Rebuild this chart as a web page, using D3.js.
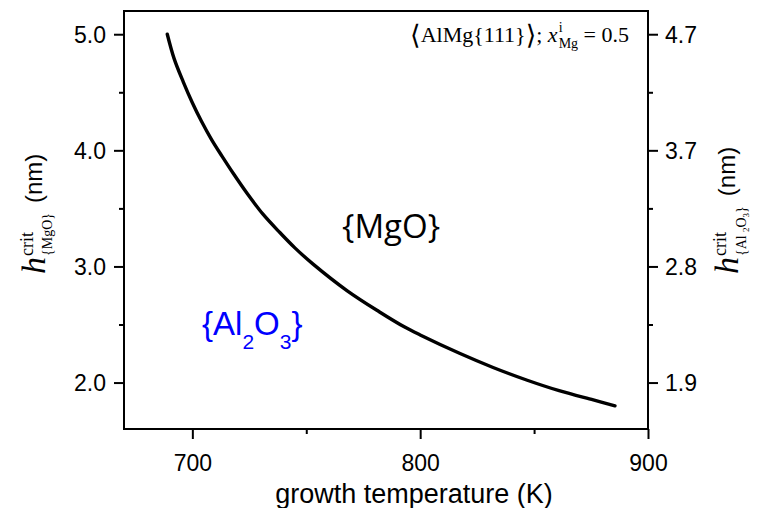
<!DOCTYPE html>
<html>
<head>
<meta charset="utf-8">
<script src="https://cdn.jsdelivr.net/npm/d3@7/dist/d3.min.js"></script>
<style>
  html, body { margin: 0; padding: 0; background: #fff; }
  svg { display: block; }
  text { white-space: pre; }
</style>
</head>
<body>
<div id="chart"></div>
<script>
// ── Data ──
const temps = [689, 692, 696, 700, 704, 708.5, 713, 718, 724, 731, 738.5, 745, 753, 768, 782, 793, 800, 817.5, 832, 847, 861, 876, 885.5];
const hMgO  = [5.00, 4.79, 4.59, 4.41, 4.25, 4.09, 3.95, 3.80, 3.63, 3.45, 3.29, 3.16, 3.02, 2.79, 2.61, 2.48, 2.41, 2.25, 2.13, 2.02, 1.93, 1.85, 1.80];

const xTicks = [700, 800, 900];
const xMinorTicks = [750, 850];
const yTicks = [2, 3, 4, 5];
const yMinorTicks = [2.5, 3.5, 4.5];
const rightTickLabels = ["1.9", "2.8", "3.7", "4.7"];

const SANS = "'Liberation Sans', Arial, sans-serif";
const SERIF = "'Liberation Serif', 'Times New Roman', serif";

// ── Dimensions ──
const W = 757, H = 508;
const margin = { top: 11, right: 109, bottom: 79, left: 124 };
const width = W - margin.left - margin.right;
const height = H - margin.top - margin.bottom;

const svg = d3.select("#chart").append("svg")
  .attr("width", W).attr("height", H);

const x = d3.scaleLinear().domain([670, 900]).range([margin.left, margin.left + width]);
const y = d3.scaleLinear().domain([1.6, 5.2]).range([margin.top + height, margin.top]);

// ── Axes ──
function styleAxis(sel) {
  sel.select(".domain").remove();
  sel.selectAll("line").attr("stroke", "#000").attr("stroke-width", 2);
  sel.selectAll("text").attr("font-family", SANS).attr("font-size", 23).attr("fill", "#000");
}

svg.append("g")
  .attr("transform", `translate(0,${margin.top + height})`)
  .call(d3.axisBottom(x).tickValues(xTicks).tickSize(10).tickSizeOuter(0))
  .call(styleAxis)
  .call(g => g.selectAll("text").attr("y", 42).attr("dy", null));

svg.append("g")
  .attr("transform", `translate(0,${margin.top + height})`)
  .call(d3.axisBottom(x).tickValues(xMinorTicks).tickSize(5).tickSizeOuter(0).tickFormat(""))
  .call(styleAxis);

svg.append("g")
  .attr("transform", `translate(${margin.left},0)`)
  .call(d3.axisLeft(y).tickValues(yTicks).tickSize(10).tickSizeOuter(0).tickFormat(d3.format(".1f")))
  .call(styleAxis)
  .call(g => g.selectAll("text").attr("x", -18).attr("dy", "0.36em"));

svg.append("g")
  .attr("transform", `translate(${margin.left},0)`)
  .call(d3.axisLeft(y).tickValues(yMinorTicks).tickSize(5).tickSizeOuter(0).tickFormat(""))
  .call(styleAxis);

svg.append("g")
  .attr("transform", `translate(${margin.left + width},0)`)
  .call(d3.axisRight(y).tickValues(yTicks).tickSize(10).tickSizeOuter(0)
    .tickFormat((d, i) => rightTickLabels[i]))
  .call(styleAxis)
  .call(g => g.selectAll("text").attr("x", 17).attr("dy", "0.36em"));

svg.append("g")
  .attr("transform", `translate(${margin.left + width},0)`)
  .call(d3.axisRight(y).tickValues(yMinorTicks).tickSize(5).tickSizeOuter(0).tickFormat(""))
  .call(styleAxis);

// frame
svg.append("rect")
  .attr("x", margin.left).attr("y", margin.top)
  .attr("width", width).attr("height", height)
  .attr("fill", "none").attr("stroke", "#000").attr("stroke-width", 2);

// ── Curve ──
const line = d3.line()
  .x((d, i) => x(temps[i]))
  .y(d => y(d))
  .curve(d3.curveCatmullRom.alpha(0.5));

svg.append("path")
  .datum(hMgO)
  .attr("d", line)
  .attr("fill", "none")
  .attr("stroke", "#000")
  .attr("stroke-width", 3.4)
  .attr("stroke-linecap", "round");

// ── Rich text helper: lays out pieces left to right, "stack" shares x with previous ──
function runText(g, pieces) {
  let cx = 0, lastStart = 0, lastW = 0;
  pieces.forEach(p => {
    const t = g.append("text")
      .attr("font-family", p.family || SERIF)
      .attr("font-size", p.size)
      .attr("font-style", p.style || "normal")
      .attr("fill", p.fill || "#000")
      .text(p.text);
    const w = t.node().getComputedTextLength();
    let px;
    if (p.stack) {
      px = lastStart;
      cx = Math.max(cx, px + w);
      lastW = Math.max(lastW, w);
    } else {
      px = cx + (p.dx || 0);
      lastStart = px; lastW = w;
      cx = px + w;
    }
    t.attr("x", px).attr("y", p.dy || 0);
  });
  return cx;
}

// ── Axis titles ──
svg.append("text")
  .attr("x", 414).attr("y", 503)
  .attr("text-anchor", "middle")
  .attr("font-family", SANS).attr("font-size", 27)
  .text("growth temperature (K)");

function yTitle(tx, ty, subPieces) {
  const g = svg.append("g").attr("transform", `translate(${tx},${ty}) rotate(-90)`);
  runText(g, [
    { text: "h", size: 34, style: "italic" },
    { text: "crit", size: 18, dy: -12, dx: 1 },
    ...subPieces,
    { text: "(nm)", family: SANS, size: 24, dx: 10, dy: -3 }
  ]);
}

yTitle(45, 274, [
  { text: "{MgO}", size: 14, dy: 7, stack: true }
]);

yTitle(738, 274, [
  { text: "{Al", size: 14, dy: 8, stack: true },
  { text: "2", size: 9, dy: 11 },
  { text: "O", size: 14, dy: 8 },
  { text: "3", size: 9, dy: 11 },
  { text: "}", size: 14, dy: 8 }
]);

// ── Annotation, top right ──
const ann = svg.append("g");
const annW = runText(ann, [
  { text: "\u27E8", size: 27, family: "'DejaVu Serif', serif", dy: 2 },
  { text: "AlMg{111}", size: 22 },
  { text: "\u27E9", size: 27, family: "'DejaVu Serif', serif", dy: 2 },
  { text: ";\u00A0", size: 22 },
  { text: "x", size: 22, style: "italic" },
  { text: "i", size: 14, dy: -10, dx: 1 },
  { text: "Mg", size: 14, dy: 6, stack: true },
  { text: "\u00A0=\u00A00.5", size: 22 }
]);
ann.attr("transform", `translate(${629 - annW},42)`);

// ── Region labels ──
svg.append("text")
  .attr("x", 342).attr("y", 238)
  .attr("font-family", "'Open Sans', 'Noto Sans', sans-serif")
  .attr("font-size", 33)
  .text("{MgO}");

const al = svg.append("g").attr("transform", "translate(202,335)");
runText(al, [
  { text: "{Al", family: SANS, size: 33, fill: "#0000ff" },
  { text: "2", family: SANS, size: 21, fill: "#0000ff", dy: 14 },
  { text: "O", family: SANS, size: 33, fill: "#0000ff" },
  { text: "3", family: SANS, size: 21, fill: "#0000ff", dy: 14 },
  { text: "}", family: SANS, size: 33, fill: "#0000ff" }
]);
</script>
</body>
</html>
